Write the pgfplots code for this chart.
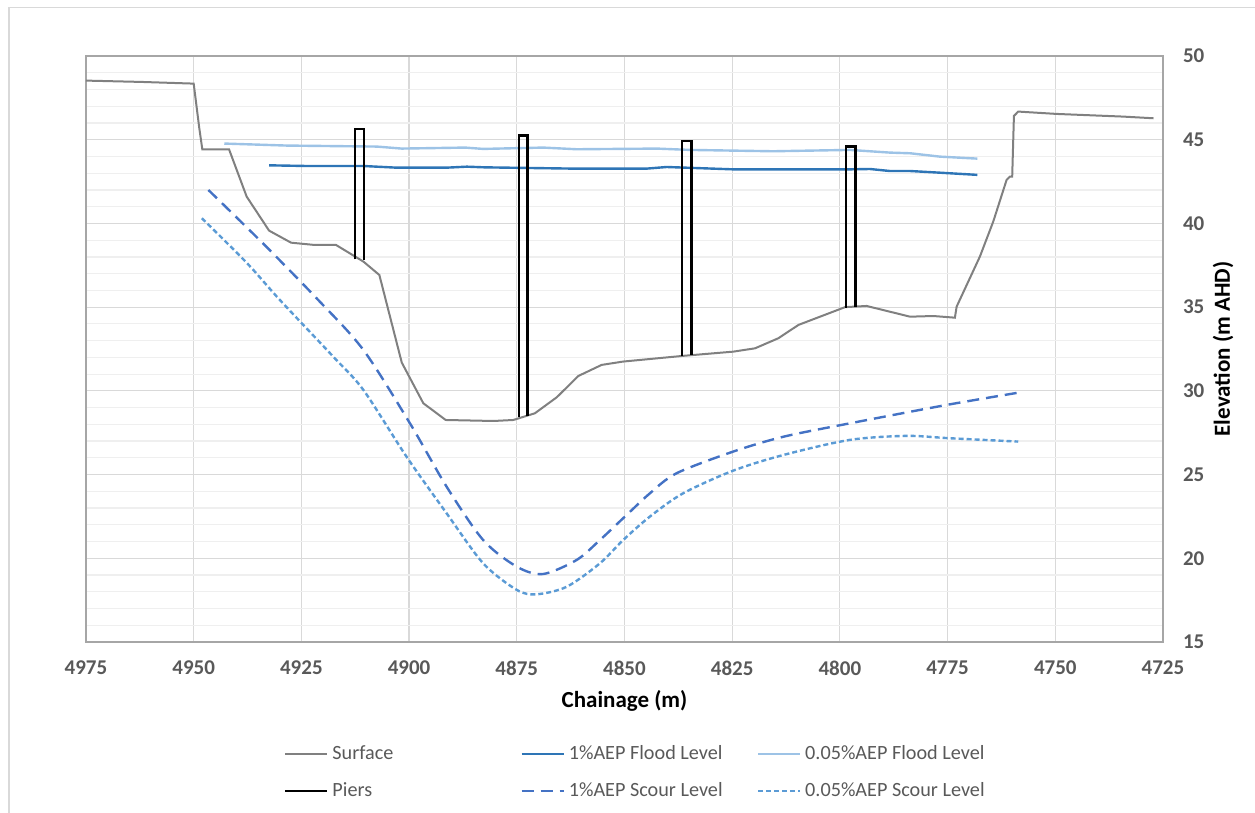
\documentclass[border=0pt]{standalone}
\usepackage{pgfplots}
\pgfplotsset{compat=1.18}
\usepackage{fontspec}
\setmainfont{Carlito}
\definecolor{surfcol}{HTML}{808080}
\definecolor{fl1}{HTML}{2E75B6}
\definecolor{fl05}{HTML}{9DC3E6}
\definecolor{sc1}{HTML}{4472C4}
\definecolor{sc05}{HTML}{5B9BD5}
\definecolor{txt}{HTML}{595959}
\definecolor{majgrid}{HTML}{D9D9D9}
\definecolor{mingrid}{HTML}{EFEFEF}
\begin{document}
\begin{tikzpicture}
\useasboundingbox (-43pt,-85.5pt) rectangle (584.5pt,321pt);
\draw[majgrid,line width=0.8pt] (-38.5pt,-90pt) -- (-38.5pt,317.25pt) -- (590pt,317.25pt);
\begin{axis}[
  at={(0pt,0pt)}, anchor=south west,
  scale only axis, width=538.5pt, height=293pt,
  x dir=reverse, xmin=4725, xmax=4975, ymin=15, ymax=50,
  xtick={4725,4750,...,4975}, ytick={15,20,...,50},
  minor y tick num=4,
  grid=both,
  major grid style={majgrid, line width=0.6pt},
  minor grid style={mingrid, line width=0.6pt},
  major tick length=0pt, minor tick length=0pt,
  axis line style={draw=black!35, line width=0.7pt},
  yticklabel pos=right,
  /pgf/number format/assume math mode=true,
  /pgf/number format/1000 sep={},
  ticklabel style={font=\fontsize{10.5}{12}\selectfont\bfseries, text=txt},
  xticklabel style={yshift=-6pt},
  yticklabel style={xshift=6.5pt},
  xlabel={Chainage (m)}, ylabel={Elevation (m AHD)},
  label style={font=\fontsize{11.5}{13}\selectfont\bfseries},
  xlabel style={at={(0.5,-0.1007)}, anchor=center},
  ylabel style={at={(1.0557,0.5)}, anchor=center},
  unbounded coords=jump,
  legend columns=3,
  legend style={at={(0.511,-0.2227)}, anchor=center, draw=none, fill=none,
    font=\fontsize{10.1}{12}\selectfont, text=txt,
    /tikz/every even column/.append style={column sep=0pt},
    row sep=6pt},
  legend cell align=left,
  legend image code/.code={\draw[#1] (0pt,0pt) -- (21pt,0pt);},
]
\addplot[surfcol, line width=1pt] coordinates {
(4975,48.53) (4962,48.45) (4950,48.35) (4948.7,45.69) (4948.0,44.43)
(4941.8,44.43) (4937.7,41.6) (4932.5,39.57) (4927.4,38.85) (4922.2,38.72)
(4917.0,38.72) (4910.6,37.72) (4906.9,36.92) (4901.7,31.69) (4896.7,29.26)
(4891.5,28.26) (4880.4,28.2) (4875.8,28.26) (4870.8,28.66) (4865.7,29.62)
(4860.7,30.89) (4855.3,31.55) (4850.3,31.75) (4836.4,32.09) (4824.8,32.34)
(4819.7,32.54) (4814.3,33.14) (4809.6,33.94) (4798.8,35.0) (4793.8,35.07)
(4783.7,34.43) (4778.3,34.47) (4773.3,34.37) (4772.9,35.03) (4767.5,38.02)
(4764.4,40.11) (4761.3,42.6) (4760.5,42.8) (4760.0,42.8) (4759.6,46.42)
(4758.6,46.68) (4749.7,46.54) (4734.2,46.38) (4727.2,46.28)};
\addlegendentry{\makebox[92pt][l]{Surface}}
\addplot[fl1, line width=1.2pt] coordinates {
(4932.5,43.47) (4923.8,43.43) (4910.6,43.43) (4902.9,43.33) (4891.3,43.33)
(4886.6,43.39) (4882.5,43.35) (4861.1,43.27) (4845,43.27) (4840.2,43.37)
(4824.8,43.23) (4797.7,43.23) (4793.0,43.25) (4788.4,43.13) (4783.7,43.13)
(4776.8,43.03) (4768.1,42.9)};
\addlegendentry{\makebox[92pt][l]{1\%AEP Flood Level}}
\addplot[fl05, line width=1.2pt] coordinates {
(4942.9,44.77) (4928.4,44.65) (4907.5,44.59) (4901.7,44.47) (4887,44.53)
(4882.8,44.45) (4868.9,44.53) (4861.1,44.43) (4842.5,44.47) (4834.8,44.39)
(4815.5,44.31) (4797.7,44.39) (4788.4,44.23) (4783.7,44.19) (4776.8,43.99)
(4768.1,43.87)};
\addlegendentry{0.05\%AEP Flood Level}
\addplot[black, line width=1.2pt] coordinates {
(4912.6,37.86) (4912.6,45.63) (4910.5,45.63) (4910.5,37.82) (nan,nan)
(4874.5,28.43) (4874.5,45.25) (4872.5,45.25) (4872.5,28.49) (nan,nan)
(4836.6,32.09) (4836.6,44.93) (4834.4,44.93) (4834.4,32.13) (nan,nan)
(4798.6,34.97) (4798.6,44.59) (4796.4,44.59) (4796.4,35.03)};
\addlegendentry{\makebox[92pt][l]{Piers}}
\addplot[sc1, line width=1.2pt, dash pattern=on 6pt off 3.5pt, smooth] coordinates {
(4946.6,42.0) (4933.5,38.7) (4921.1,35.43) (4910.6,32.44) (4899.8,28.06) (4891.3,24.28)
(4882.8,21.09) (4875.0,19.5) (4868.9,19.06) (4861.1,19.9) (4855.7,21.09)
(4849.9,22.49) (4844.1,23.88) (4837.9,25.08) (4824.8,26.37) (4813.1,27.26)
(4797.7,28.06) (4775.2,29.16) (4758.6,29.89)};
\addlegendentry{\makebox[92pt][l]{1\%AEP Scour Level}}
\addplot[sc05, line width=1.2pt, dash pattern=on 2.5pt off 1.5pt, smooth] coordinates {
(4948.1,40.31) (4937.7,37.65) (4930.0,35.43) (4917.6,32.04) (4910.6,30.05)
(4900.6,26.07) (4891.3,22.69) (4882.8,19.7) (4875.0,18.11) (4870.4,17.85)
(4863.4,18.3) (4855.7,19.7) (4850.3,21.09) (4844.1,22.49) (4836.4,23.88)
(4824.8,25.23) (4813.1,26.17) (4797.7,27.07) (4784.5,27.31) (4774.5,27.17)
(4758.6,26.97)};
\addlegendentry{0.05\%AEP Scour Level}
\end{axis}
\end{tikzpicture}
\end{document}
